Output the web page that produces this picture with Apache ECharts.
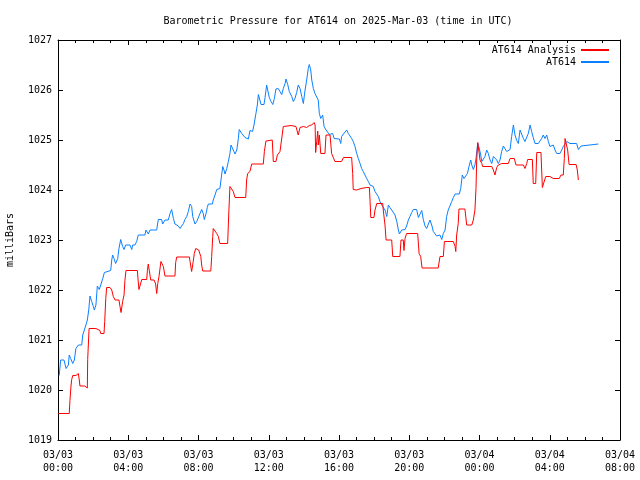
<!DOCTYPE html>
<html>
<head>
<meta charset="utf-8">
<script src="https://cdn.jsdelivr.net/npm/echarts@6/dist/echarts.min.js"></script>
<style>html,body{margin:0;padding:0;background:#fff;}#c{width:640px;height:480px;}</style>
</head>
<body>
<div id="c"></div>
<script>
// hours since 2025-03-03 00:00 UTC
var redT = [0.02,0.64,0.68,0.74,0.78,0.84,1.02,1.02,1.16,1.21,
1.25,1.52,1.55,1.67,1.69,1.77,2.16,2.22,2.39,2.43,
2.62,2.66,2.72,2.77,2.96,3.06,3.15,3.25,3.47,3.53,
3.59,3.68,3.76,3.81,3.87,4.52,4.56,4.61,4.71,4.77,
5.05,5.09,5.14,5.24,5.28,5.47,5.56,5.62,5.68,5.75,
5.86,6.0,6.09,6.66,6.7,6.76,7.48,7.52,7.61,7.7,
7.76,7.84,8.01,8.13,8.18,8.24,8.7,8.75,8.81,8.84,
8.94,9.04,9.13,9.22,9.66,9.72,9.79,9.89,9.98,10.08,
10.69,10.74,10.8,10.93,11.03,11.69,11.75,11.84,11.94,12.2,
12.26,12.41,12.49,12.64,12.74,12.83,12.93,13.27,13.36,13.55,
13.68,13.78,13.97,14.16,14.31,14.45,14.58,14.64,14.67,14.73,
14.79,14.82,14.88,14.96,15.2,15.26,15.49,15.54,15.58,15.68,
15.77,16.15,16.25,16.72,16.78,16.81,17.01,17.1,17.25,17.58,
17.73,17.77,17.81,17.99,18.05,18.15,18.49,18.52,18.62,18.68,
19.0,19.06,19.47,19.53,19.66,19.7,19.76,19.85,20.48,20.56,
20.65,20.73,21.65,21.75,21.94,22.0,22.51,22.61,22.65,22.7,
22.79,22.83,23.17,23.27,23.56,23.65,23.74,23.8,23.84,23.9,
23.93,24.03,24.13,24.18,24.7,24.79,24.88,24.98,25.07,25.26,
25.64,25.74,25.98,26.08,26.5,26.59,26.69,26.74,27.01,27.06,
27.2,27.26,27.5,27.58,27.69,27.77,28.01,28.2,28.54,28.64,
28.77,28.83,28.87,28.97,29.02,29.1,29.5,29.57,29.63];
var redV = [1019.53,1019.53,1019.79,1020.08,1020.21,1020.29,1020.29,1020.33,1020.33,1020.2,
1020.08,1020.08,1020.04,1020.04,1020.61,1021.23,1021.23,1021.19,1021.19,1021.13,
1021.13,1021.37,1021.83,1022.05,1022.05,1022.0,1021.87,1021.8,1021.8,1021.67,
1021.55,1021.77,1021.9,1022.19,1022.39,1022.39,1022.2,1022.01,1022.01,1022.21,
1022.21,1022.39,1022.52,1022.52,1022.2,1022.2,1022.12,1021.93,1022.13,1022.27,
1022.57,1022.47,1022.28,1022.28,1022.55,1022.66,1022.66,1022.57,1022.37,1022.57,
1022.73,1022.83,1022.8,1022.67,1022.5,1022.38,1022.38,1022.67,1023.07,1023.23,
1023.23,1023.13,1023.07,1022.93,1022.93,1023.5,1024.07,1024.08,1023.97,1023.85,
1023.85,1024.2,1024.33,1024.37,1024.52,1024.52,1024.77,1024.98,1025.0,1025.0,
1024.57,1024.57,1024.7,1024.77,1024.8,1025.27,1025.29,1025.29,1025.27,1025.27,
1025.1,1025.25,1025.27,1025.25,1025.29,1025.3,1025.35,1025.3,1024.75,1024.97,
1025.18,1024.9,1025.1,1024.73,1024.73,1025.1,1025.1,1025.07,1024.73,1024.7,
1024.57,1024.57,1024.65,1024.65,1024.33,1024.01,1024.0,1023.98,1024.03,1024.05,
1024.05,1023.77,1023.45,1023.45,1023.6,1023.73,1023.73,1023.6,1023.3,1023.0,
1023.0,1022.67,1022.67,1023.0,1023.0,1022.79,1023.03,1023.13,1023.13,1022.73,
1022.67,1022.44,1022.44,1022.67,1022.67,1022.97,1022.97,1022.87,1022.77,1023.1,
1023.33,1023.62,1023.62,1023.3,1023.3,1023.4,1023.6,1024.03,1024.6,1024.95,
1024.87,1024.6,1024.53,1024.47,1024.47,1024.4,1024.3,1024.45,1024.5,1024.53,
1024.53,1024.63,1024.63,1024.5,1024.5,1024.43,1024.53,1024.61,1024.61,1024.13,
1024.13,1024.75,1024.75,1024.05,1024.05,1024.27,1024.27,1024.23,1024.23,1024.3,
1024.3,1024.63,1025.03,1025.03,1024.8,1024.51,1024.51,1024.4,1024.2];
var blueT = [0.07,0.15,0.34,0.46,0.5,0.59,0.64,0.72,0.84,0.93,
1.02,1.16,1.35,1.41,1.5,1.59,1.67,1.75,1.82,1.92,
2.01,2.07,2.16,2.24,2.35,2.43,2.55,2.64,2.73,3.0,
3.06,3.11,3.19,3.28,3.4,3.47,3.57,3.68,3.76,3.85,
4.1,4.2,4.25,4.38,4.48,4.57,4.95,5.01,5.14,5.24,
5.62,5.71,5.9,5.96,6.04,6.09,6.28,6.38,6.47,6.57,
6.66,6.85,6.95,7.04,7.14,7.23,7.33,7.42,7.52,7.61,
7.67,7.8,7.9,8.05,8.18,8.27,8.33,8.43,8.5,8.56,
8.79,8.84,8.94,9.04,9.22,9.28,9.38,9.45,9.51,9.61,
9.7,9.79,9.85,9.95,10.02,10.08,10.18,10.27,10.32,10.46,
10.55,10.65,10.74,10.84,10.93,11.03,11.08,11.16,11.27,11.35,
11.41,11.5,11.56,11.73,11.79,11.88,11.94,12.03,12.13,12.23,
12.32,12.41,12.54,12.64,12.74,12.83,12.93,12.98,13.08,13.17,
13.31,13.4,13.49,13.59,13.68,13.78,13.88,13.97,14.06,14.16,
14.25,14.31,14.39,14.45,14.54,14.63,14.73,14.82,14.88,14.96,
15.07,15.15,15.26,15.33,15.45,15.53,15.64,15.72,15.83,16.02,
16.1,16.15,16.25,16.34,16.44,16.53,16.63,16.72,16.81,16.91,
17.01,17.1,17.2,17.29,17.38,17.48,17.58,17.67,17.77,17.86,
17.95,18.05,18.15,18.24,18.33,18.43,18.52,18.62,18.72,18.81,
18.9,19.0,19.09,19.19,19.29,19.38,19.44,19.57,19.66,19.76,
19.85,19.95,20.04,20.14,20.23,20.42,20.52,20.61,20.71,20.8,
20.9,20.99,21.09,21.18,21.28,21.37,21.47,21.56,21.65,21.75,
21.85,21.94,22.04,22.13,22.22,22.32,22.42,22.51,22.61,22.85,
22.93,23.02,23.12,23.23,23.31,23.4,23.5,23.56,23.65,23.74,
23.8,23.9,23.99,24.07,24.13,24.22,24.31,24.41,24.5,24.6,
24.7,24.79,24.88,24.98,25.07,25.17,25.26,25.36,25.45,25.55,
25.64,25.74,25.83,25.93,26.02,26.12,26.21,26.31,26.4,26.5,
26.59,26.69,26.78,26.88,26.97,27.06,27.16,27.35,27.45,27.54,
27.63,27.73,27.83,27.92,28.01,28.11,28.2,28.3,28.4,28.58,
28.68,28.77,28.87,28.97,29.06,29.15,29.53,29.63,29.69,29.78,
29.88,30.77];
var blueV = [1020.29,1020.6,1020.6,1020.43,1020.4,1020.5,1020.7,1020.63,1020.53,1020.6,
1020.83,1020.9,1020.9,1021.1,1021.2,1021.3,1021.4,1021.6,1021.88,1021.77,
1021.67,1021.6,1021.7,1022.08,1022.01,1022.0,1022.23,1022.35,1022.39,1022.39,
1022.6,1022.7,1022.63,1022.53,1022.63,1022.83,1023.01,1022.87,1022.81,1022.9,
1022.9,1022.81,1022.9,1022.9,1022.97,1023.1,1023.1,1023.2,1023.12,1023.2,
1023.2,1023.41,1023.41,1023.32,1023.32,1023.4,1023.4,1023.53,1023.61,1023.43,
1023.32,1023.28,1023.23,1023.28,1023.33,1023.41,1023.47,1023.57,1023.72,1023.67,
1023.47,1023.32,1023.37,1023.5,1023.61,1023.53,1023.41,1023.53,1023.65,1023.72,
1023.72,1023.8,1023.9,1024.01,1024.03,1024.2,1024.47,1024.4,1024.32,1024.43,
1024.57,1024.73,1024.9,1024.87,1024.77,1024.72,1024.8,1025.03,1025.21,1025.13,
1025.13,1025.05,1025.02,1025.02,1025.19,1025.23,1025.17,1025.3,1025.53,1025.7,
1025.91,1025.91,1025.71,1025.71,1025.85,1026.1,1026.0,1025.85,1025.77,1025.71,
1025.83,1026.02,1026.03,1025.97,1025.91,1026.03,1026.13,1026.22,1026.11,1025.97,
1025.87,1025.77,1025.83,1025.95,1026.1,1026.03,1025.87,1025.73,1025.98,1026.2,
1026.43,1026.51,1026.4,1026.2,1026.03,1025.93,1025.9,1025.8,1025.53,1025.43,
1025.5,1025.27,1025.2,1025.17,1025.11,1025.1,1025.13,1025.03,1025.02,1025.02,
1024.93,1025.07,1025.12,1025.1,1025.2,1025.13,1025.08,1025.03,1024.97,1024.87,
1024.73,1024.63,1024.53,1024.43,1024.37,1024.3,1024.23,1024.17,1024.1,1024.12,
1024.07,1023.97,1024.0,1023.87,1023.77,1023.7,1023.7,1023.6,1023.47,1023.7,
1023.65,1023.6,1023.61,1023.5,1023.37,1023.2,1023.12,1023.2,1023.23,1023.21,
1023.28,1023.4,1023.47,1023.55,1023.61,1023.61,1023.45,1023.41,1023.59,1023.41,
1023.28,1023.23,1023.23,1023.4,1023.3,1023.17,1023.13,1023.08,1023.07,1023.1,
1023.01,1023.13,1023.2,1023.47,1023.6,1023.63,1023.77,1023.85,1023.92,1023.92,
1024.03,1024.3,1024.23,1024.23,1024.33,1024.47,1024.6,1024.5,1024.41,1024.5,
1024.63,1024.93,1024.83,1024.7,1024.57,1024.53,1024.67,1024.8,1024.73,1024.6,
1024.53,1024.67,1024.63,1024.6,1024.53,1024.6,1024.77,1024.88,1024.87,1024.77,
1024.73,1024.81,1025.07,1025.3,1025.1,1024.99,1024.93,1025.2,1025.2,1025.03,
1024.97,1024.93,1025.13,1025.3,1025.17,1025.05,1024.93,1024.93,1024.97,1025.03,
1025.1,1025.03,1025.1,1024.97,1024.87,1024.83,1024.9,1024.8,1024.73,1024.73,
1024.8,1024.87,1024.9,1024.97,1024.97,1024.93,1024.93,1024.81,1024.81,1024.88,
1024.92,1024.92];
var xTickLabels = ['03/03\n00:00','03/03\n04:00','03/03\n08:00','03/03\n12:00','03/03\n16:00','03/03\n20:00','03/04\n00:00','03/04\n04:00','03/04\n08:00'];
var seriesNames = ['AT614 Analysis','AT614'];
var titleText = 'Barometric Pressure for AT614 on 2025-Mar-03 (time in UTC)';
var yName = 'milliBars';

function pairs(t, v) { var out = []; for (var i = 0; i < Math.min(t.length, v.length); i++) out.push([t[i], v[i]]); return out; }

var FONT = 'DejaVu Sans Mono';
var black = '#000';
function xAxisCfg(pos, showLabel) {
  return {
    type: 'value', position: pos, min: 0, max: 32, interval: 4,
    axisLine: { show: true, onZero: false, lineStyle: { color: black, width: 1 } },
    axisTick: { show: true, inside: true, length: 5, lineStyle: { color: black } },
    minorTick: { show: true, splitNumber: 4, length: 3, lineStyle: { color: black } },
    splitLine: { show: false },
    axisLabel: { show: showLabel, fontFamily: FONT, fontSize: 10, color: black, lineHeight: 13, margin: 9,
      formatter: function (v) { return xTickLabels[Math.round(v / 4)] || ''; } }
  };
}
function yAxisCfg(pos, showLabel) {
  var c = {
    type: 'value', position: pos, min: 1019, max: 1027, interval: 1,
    axisLine: { show: true, onZero: false, lineStyle: { color: black, width: 1 } },
    axisTick: { show: true, inside: true, length: 5, lineStyle: { color: black } },
    splitLine: { show: false },
    axisLabel: { show: showLabel, fontFamily: FONT, fontSize: 10, color: black, margin: 6,
      formatter: function (v) { return String(v); } }
  };
  if (showLabel) {
    c.name = yName; c.nameLocation = 'middle'; c.nameGap = 43; c.nameRotate = 90;
    c.nameTextStyle = { fontFamily: FONT, fontSize: 10, color: black };
  }
  return c;
}
var legendCommon = { right: 30, align: 'right', itemWidth: 28, itemHeight: 10, padding: 0, itemGap: 0,
  itemStyle: { opacity: 0 }, textStyle: { fontFamily: FONT, fontSize: 10, color: black } };

var chart = echarts.init(document.getElementById('c'), null, { renderer: 'canvas' });
chart.setOption({
  animation: false,
  backgroundColor: '#fff',
  title: { text: titleText, left: 338, top: 16, padding: 0, textAlign: 'center',
    textStyle: { fontFamily: FONT, fontSize: 10, fontWeight: 'normal', color: black } },
  legend: [
    Object.assign({ data: [seriesNames[0]], top: 45 }, legendCommon),
    Object.assign({ data: [seriesNames[1]], top: 57 }, legendCommon)
  ],
  grid: { left: 58, right: 20, top: 40, bottom: 40, containLabel: false, outerBoundsMode: 'none' },
  xAxis: [xAxisCfg('bottom', true), xAxisCfg('top', false)],
  yAxis: [yAxisCfg('left', true), yAxisCfg('right', false)],
  series: [
    { name: seriesNames[0], type: 'line', data: pairs(redT, redV), symbol: 'none', showSymbol: false,
      lineStyle: { color: '#ff0000', width: 1 }, itemStyle: { color: '#ff0000' }, z: 3 },
    { name: seriesNames[1], type: 'line', data: pairs(blueT, blueV), symbol: 'none', showSymbol: false,
      lineStyle: { color: '#0a80ff', width: 1 }, itemStyle: { color: '#0a80ff' }, z: 2 }
  ]
});
</script>
</body>
</html>
